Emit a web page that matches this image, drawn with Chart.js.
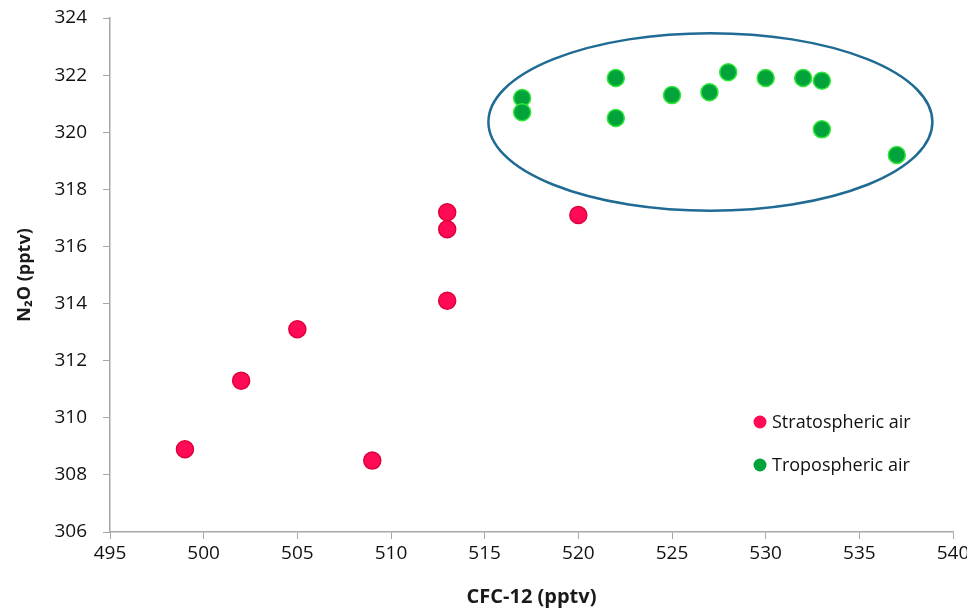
<!DOCTYPE html>
<html>
<head>
<meta charset="utf-8">
<script src="https://cdn.jsdelivr.net/npm/chart.js"></script>
<style>
  html, body { margin: 0; padding: 0; background: #fff; }
  #wrap { width: 967px; height: 612px; }
</style>
</head>
<body>
<div id="wrap"><canvas id="chart" width="967" height="612"></canvas></div>
<script>
// Stratospheric air samples: CFC-12 (x) and N2O (y), pptv
const stratoCfc = [499, 502, 505, 509, 513, 513, 513, 520];
const stratoN2o = [308.9, 311.3, 313.1, 308.5, 314.1, 316.6, 317.2, 317.1];

// Tropospheric air samples
const tropoCfc = [517, 517, 522, 522, 525, 527, 528, 530, 532, 533, 533, 537];
const tropoN2o = [321.2, 320.7, 321.9, 320.5, 321.3, 321.4, 322.1, 321.9, 321.9, 321.8, 320.1, 319.2];

const seriesLabels = ['Stratospheric air', 'Tropospheric air'];

// Axis ranges / tick steps
const xRange = [495, 540, 5];
const yRange = [306, 324, 2];

// Ellipse around tropospheric group, in data units: [xMin, xMax, yMin, yMax]
const ellipseBox = [515.2, 538.9, 317.25, 323.47];

const toPoints = (xs, ys) => xs.map((x, i) => ({ x: x, y: ys[i] }));

const FONT = '"Open Sans", "DejaVu Sans", sans-serif';

const ellipsePlugin = {
    id: 'ellipse',
    beforeDatasetsDraw(chart) {
        const { ctx, scales: { x, y } } = chart;
        const x0 = x.getPixelForValue(ellipseBox[0]);
        const x1 = x.getPixelForValue(ellipseBox[1]);
        const y0 = y.getPixelForValue(ellipseBox[3]);
        const y1 = y.getPixelForValue(ellipseBox[2]);
        ctx.save();
        ctx.beginPath();
        ctx.ellipse((x0 + x1) / 2, (y0 + y1) / 2, (x1 - x0) / 2, (y1 - y0) / 2, 0, 0, Math.PI * 2);
        ctx.strokeStyle = '#1f6b93';
        ctx.lineWidth = 2.5;
        ctx.stroke();
        ctx.restore();
    }
};

// simple legend drawn inside the plot, lower right
const innerLegend = {
    id: 'innerLegend',
    afterDraw(chart) {
        const { ctx, chartArea } = chart;
        const left = chartArea.right - 200;
        const top = chartArea.bottom - 110;
        ctx.save();
        ctx.font = '18px ' + FONT;
        ctx.textBaseline = 'middle';
        chart.data.datasets.forEach((ds, i) => {
            const cy = top + i * 43;
            ctx.beginPath();
            ctx.arc(left + 7, cy, 6.5, 0, Math.PI * 2);
            ctx.fillStyle = ds.backgroundColor;
            ctx.fill();
            ctx.fillStyle = '#111';
            ctx.fillText(ds.label, left + 19, cy + 1);
        });
        ctx.restore();
    }
};

new Chart(document.getElementById('chart'), {
    type: 'scatter',
    data: {
        datasets: [
            {
                label: seriesLabels[0],
                data: toPoints(stratoCfc, stratoN2o),
                backgroundColor: '#ff0a55',
                borderColor: '#e0003c',
                borderWidth: 1.5,
                pointRadius: 8.5
            },
            {
                label: seriesLabels[1],
                data: toPoints(tropoCfc, tropoN2o),
                backgroundColor: '#02a33a',
                borderColor: '#2fe83a',
                borderWidth: 1.5,
                pointRadius: 8.5
            }
        ]
    },
    options: {
        responsive: false,
        animation: false,
        layout: { padding: { top: 18, right: 14, left: 10, bottom: 2 } },
        plugins: {
            legend: { display: false },
            tooltip: { enabled: false }
        },
        scales: {
            x: {
                type: 'linear',
                min: xRange[0],
                max: xRange[1],
                ticks: {
                    stepSize: xRange[2],
                    color: '#111',
                    font: { family: FONT, size: 19 },
                    padding: 3
                },
                grid: { display: true, drawOnChartArea: false, tickLength: 7, color: '#a6a6a6' },
                border: { color: '#a6a6a6', width: 1.5 },
                title: {
                    display: true,
                    text: 'CFC-12 (pptv)',
                    color: '#1a1a1a',
                    font: { family: FONT, size: 20, weight: 'bold' },
                    padding: { top: 13, bottom: 1 }
                },
                afterFit(scale) {
                    scale.height = 78;
                    scale.paddingLeft = 0;
                    scale.paddingRight = 0;
                }
            },
            y: {
                type: 'linear',
                min: yRange[0],
                max: yRange[1],
                ticks: {
                    stepSize: yRange[2],
                    color: '#111',
                    font: { family: FONT, size: 19 },
                    padding: 16
                },
                grid: { display: true, drawOnChartArea: false, tickLength: 7, color: '#a6a6a6' },
                border: { color: '#a6a6a6', width: 1.5 },
                title: {
                    display: true,
                    text: 'N\u2082O (pptv)',
                    color: '#1a1a1a',
                    font: { family: FONT, size: 18, weight: 'bold' },
                    padding: { bottom: 8 }
                },
                afterFit(scale) {
                    scale.width = 100;
                    scale.paddingTop = 0;
                    scale.paddingBottom = 0;
                }
            }
        }
    },
    plugins: [ellipsePlugin, innerLegend]
});
</script>
</body>
</html>
